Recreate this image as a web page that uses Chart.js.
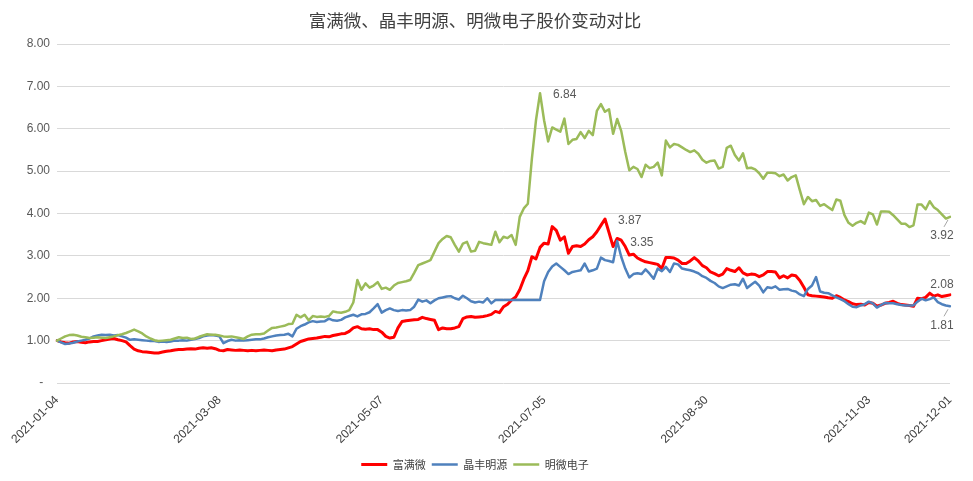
<!DOCTYPE html>
<html>
<head>
<meta charset="utf-8">
<script src="https://cdn.jsdelivr.net/npm/chart.js@4.4.0/dist/chart.umd.min.js"></script>
<style>
  body { margin: 0; background: #fff; }
</style>
</head>
<body>
<canvas id="myChart" width="973" height="481"></canvas>
<script>
// trading calendar 2021 (SSE closures)
const startDay = '2021-01-04';
const endDay = '2021-12-01';
const holidays = ['2021-01-01', '2021-02-11', '2021-02-12', '2021-02-15', '2021-02-16', '2021-02-17',
    '2021-04-05', '2021-05-03', '2021-05-04', '2021-05-05', '2021-06-14', '2021-09-20', '2021-09-21',
    '2021-10-01', '2021-10-04', '2021-10-05', '2021-10-06', '2021-10-07'];
const shownDates = ['2021-01-04', '2021-03-08', '2021-05-07', '2021-07-05', '2021-08-30', '2021-11-03', '2021-12-01'];

const seriesNames = ['富满微', '晶丰明源', '明微电子'];

// 富满微
const fumanwei = [
    1.00, 0.97, 0.95, 0.94, 0.97, 0.98, 0.96, 0.95, 0.97, 0.98,
    0.98, 1.00, 1.02, 1.04, 1.05, 1.02, 1.00, 0.97, 0.88, 0.80,
    0.76, 0.74, 0.73, 0.72, 0.71, 0.71, 0.73, 0.75, 0.76, 0.78,
    0.79, 0.79, 0.80, 0.81, 0.80, 0.82, 0.83, 0.82, 0.83, 0.81,
    0.77, 0.76, 0.79, 0.78, 0.77, 0.78, 0.77, 0.76, 0.77, 0.76,
    0.77, 0.78, 0.77, 0.76, 0.78, 0.79, 0.80, 0.83, 0.86, 0.92,
    0.98, 1.01, 1.04, 1.05, 1.06, 1.08, 1.10, 1.09, 1.12, 1.14,
    1.16, 1.17, 1.22, 1.30, 1.33, 1.28, 1.27, 1.28, 1.26, 1.26,
    1.20, 1.10, 1.06, 1.08, 1.30, 1.45, 1.47, 1.48, 1.49, 1.50,
    1.55, 1.52, 1.50, 1.48, 1.26, 1.30, 1.28, 1.28, 1.30, 1.33,
    1.52, 1.56, 1.57, 1.55, 1.56, 1.57, 1.59, 1.62, 1.69, 1.66,
    1.80, 1.86, 1.96, 2.03, 2.20, 2.45, 2.65, 2.98, 2.93, 3.20,
    3.30, 3.28, 3.69, 3.60, 3.37, 3.45, 3.06, 3.22, 3.24, 3.22,
    3.28, 3.38, 3.45, 3.57, 3.72, 3.87, 3.55, 3.22, 3.41, 3.37,
    3.22, 3.02, 3.04, 2.95, 2.90, 2.86, 2.84, 2.82, 2.80, 2.70,
    2.96, 2.96, 2.95, 2.90, 2.82, 2.82, 2.88, 2.96, 2.88, 2.77,
    2.72, 2.62, 2.58, 2.53, 2.57, 2.70, 2.66, 2.63, 2.72, 2.60,
    2.55, 2.57, 2.56, 2.51, 2.55, 2.63, 2.63, 2.62, 2.48, 2.53,
    2.48, 2.55, 2.53, 2.42, 2.26, 2.08, 2.06, 2.05, 2.04, 2.03,
    2.01, 2.00, 2.06, 2.02, 1.96, 1.92, 1.87, 1.85, 1.86, 1.84,
    1.90, 1.88, 1.81, 1.84, 1.88, 1.90, 1.93, 1.88, 1.85, 1.84,
    1.83, 1.81, 2.00, 1.99, 2.02, 2.12, 2.05, 2.08, 2.04, 2.06, 2.08
];

// 晶丰明源
const jingfeng = [
    1.00, 0.96, 0.92, 0.93, 0.95, 0.98, 1.00, 1.02, 1.05, 1.10,
    1.12, 1.14, 1.13, 1.14, 1.12, 1.13, 1.10, 1.07, 1.02, 1.03,
    1.02, 1.01, 1.00, 0.99, 0.99, 0.97, 0.98, 0.97, 0.98, 1.00,
    1.00, 1.01, 1.00, 1.02, 1.04, 1.06, 1.10, 1.12, 1.13, 1.12,
    1.10, 0.94, 0.99, 1.02, 1.00, 1.01, 1.00, 1.01, 1.02, 1.03,
    1.03, 1.05, 1.08, 1.10, 1.12, 1.13, 1.14, 1.16, 1.10, 1.28,
    1.34, 1.38, 1.43, 1.46, 1.44, 1.45, 1.46, 1.52, 1.48, 1.47,
    1.49, 1.55, 1.58, 1.61, 1.57, 1.62, 1.63, 1.67, 1.76, 1.86,
    1.66, 1.72, 1.76, 1.72, 1.70, 1.72, 1.71, 1.72, 1.80, 1.97,
    1.92, 1.95, 1.88, 1.95, 2.00, 2.02, 2.04, 2.05, 2.00, 1.97,
    2.06, 2.00, 1.93, 1.90, 1.92, 1.90, 2.00, 1.88, 1.96, 1.96,
    1.96, 1.96, 1.96, 1.96, 1.96, 1.96, 1.96, 1.96, 1.96, 1.96,
    2.40, 2.62, 2.75, 2.82, 2.74, 2.66, 2.57, 2.62, 2.64, 2.66,
    2.82, 2.63, 2.66, 2.70, 2.96, 2.90, 2.88, 2.85, 3.35, 2.98,
    2.70, 2.49, 2.57, 2.59, 2.57, 2.68, 2.58, 2.46, 2.70, 2.64,
    2.74, 2.62, 2.82, 2.80, 2.70, 2.68, 2.66, 2.63, 2.59, 2.52,
    2.48, 2.41, 2.36, 2.28, 2.24, 2.28, 2.32, 2.33, 2.30, 2.46,
    2.24, 2.32, 2.39, 2.30, 2.14, 2.26, 2.24, 2.28, 2.20, 2.21,
    2.22, 2.18, 2.16, 2.09, 2.05, 2.22, 2.30, 2.50, 2.16, 2.13,
    2.12, 2.07, 2.02, 1.98, 1.93, 1.86, 1.80, 1.79, 1.83, 1.86,
    1.92, 1.88, 1.78, 1.84, 1.89, 1.88, 1.88, 1.86, 1.84, 1.83,
    1.83, 1.83, 1.92, 1.99, 1.95, 1.98, 2.02, 1.91, 1.86, 1.83, 1.81
];

// 明微电子
const mingwei = [
    1.00, 1.05, 1.10, 1.13, 1.14, 1.12, 1.09, 1.08, 1.06, 1.07,
    1.08, 1.07, 1.06, 1.08, 1.10, 1.13, 1.15, 1.18, 1.22, 1.26,
    1.22, 1.17, 1.10, 1.05, 1.01, 0.99, 1.00, 1.01, 1.02, 1.05,
    1.08, 1.06, 1.07, 1.04, 1.05, 1.09, 1.12, 1.15, 1.14, 1.14,
    1.12, 1.10, 1.09, 1.10, 1.08, 1.06, 1.04, 1.10, 1.14, 1.15,
    1.15, 1.17, 1.24, 1.30, 1.31, 1.33, 1.35, 1.39, 1.40, 1.61,
    1.55, 1.61, 1.48, 1.58, 1.56, 1.57, 1.56, 1.58, 1.69, 1.67,
    1.66, 1.68, 1.72, 1.90, 2.43, 2.20, 2.35, 2.25, 2.30, 2.38,
    2.22, 2.25, 2.20, 2.30, 2.36, 2.38, 2.40, 2.43, 2.60, 2.78,
    2.82, 2.86, 2.90, 3.10, 3.30, 3.40, 3.47, 3.44, 3.26, 3.10,
    3.29, 3.33, 3.10, 3.12, 3.33, 3.30, 3.28, 3.26, 3.57, 3.32,
    3.45, 3.42, 3.49, 3.26, 3.92, 4.12, 4.23, 5.30, 6.20, 6.84,
    6.20, 5.70, 6.03, 5.98, 5.93, 6.24, 5.64, 5.74, 5.76, 5.92,
    5.78, 5.95, 5.85, 6.42, 6.58, 6.40, 6.46, 5.88, 6.23, 5.95,
    5.45, 5.02, 5.10, 5.05, 4.86, 5.15, 5.07, 5.10, 5.20, 4.90,
    5.72, 5.56, 5.64, 5.62, 5.56, 5.50, 5.45, 5.49, 5.41, 5.27,
    5.20, 5.24, 5.25, 5.06, 5.10, 5.55, 5.60, 5.38, 5.25, 5.42,
    5.07, 5.08, 5.04, 4.95, 4.82, 4.96, 4.96, 4.95, 4.88, 4.92,
    4.78, 4.86, 4.90, 4.55, 4.22, 4.39, 4.29, 4.32, 4.18, 4.22,
    4.15, 4.08, 4.33, 4.30, 3.96, 3.78, 3.71, 3.78, 3.82, 3.76,
    4.02, 3.98, 3.74, 4.05, 4.05, 4.04, 3.96, 3.86, 3.76, 3.76,
    3.68, 3.72, 4.21, 4.21, 4.10, 4.29, 4.15, 4.08, 3.98, 3.88, 3.92
];

// points that carry a value label: [dataset, index, placement]
const labelPoints = [[2, 119, 'right'], [0, 135, 'right'], [1, 138, 'right'],
    [2, 220, 'below'], [0, 220, 'above'], [1, 220, 'below']];

function tradingDays(from, to) {
    const out = [];
    const d = new Date(from + 'T00:00:00Z');
    const last = new Date(to + 'T00:00:00Z');
    while (d <= last) {
        const s = d.toISOString().slice(0, 10);
        const wd = d.getUTCDay();
        if (wd !== 0 && wd !== 6 && !holidays.includes(s)) out.push(s);
        d.setUTCDate(d.getUTCDate() + 1);
    }
    return out;
}
const dates = tradingDays(startDay, endDay);

const valueLabels = {
    id: 'valueLabels',
    afterDatasetsDraw(chart) {
        const ctx = chart.ctx;
        ctx.save();
        ctx.font = '12px "Liberation Sans", Arial, sans-serif';
        ctx.fillStyle = '#595959';
        ctx.strokeStyle = '#a6a6a6';
        ctx.lineWidth = 1;
        labelPoints.forEach(function (lp) {
            const ds = chart.data.datasets[lp[0]];
            const p = chart.getDatasetMeta(lp[0]).data[lp[1]];
            const txt = ds.data[lp[1]].toFixed(2);
            if (lp[2] === 'right') {
                ctx.textAlign = 'left';
                ctx.textBaseline = 'middle';
                ctx.fillText(txt, p.x + 13, p.y + 2);
            } else if (lp[2] === 'below') {
                ctx.beginPath();
                ctx.moveTo(p.x - 2, p.y + 3);
                ctx.lineTo(p.x - 6, p.y + 10);
                ctx.stroke();
                ctx.textAlign = 'center';
                ctx.textBaseline = 'middle';
                ctx.fillText(txt, p.x - 8, p.y + 19);
            } else {
                ctx.textAlign = 'center';
                ctx.textBaseline = 'middle';
                ctx.fillText(txt, p.x - 8, p.y - 10);
            }
        });
        ctx.restore();
    }
};

const ctx = document.getElementById('myChart');
const myChart = new Chart(ctx, {
    type: 'line',
    data: {
        labels: dates,
        datasets: [{
            label: seriesNames[0],
            data: fumanwei,
            borderColor: '#ff0000',
            backgroundColor: '#ff0000',
            borderWidth: 3,
            order: 3
        }, {
            label: seriesNames[1],
            data: jingfeng,
            borderColor: '#4f81bd',
            backgroundColor: '#4f81bd',
            borderWidth: 2.5,
            order: 2
        }, {
            label: seriesNames[2],
            data: mingwei,
            borderColor: '#9bbb59',
            backgroundColor: '#9bbb59',
            borderWidth: 2.5,
            order: 1
        }]
    },
    options: {
        responsive: false,
        animation: false,
        layout: {
            padding: { top: 4, right: 23, bottom: 1, left: 0 }
        },
        elements: {
            point: { radius: 0 },
            line: { tension: 0, borderJoinStyle: 'round', borderCapStyle: 'round' }
        },
        plugins: {
            title: {
                display: true,
                text: '富满微、晶丰明源、明微电子股价变动对比',
                color: '#404040',
                font: { family: '"Noto Sans CJK SC"', size: 17.5, weight: 'normal' },
                padding: { top: 6, bottom: 13 }
            },
            legend: {
                position: 'bottom',
                labels: {
                    usePointStyle: true,
                    pointStyle: 'line',
                    pointStyleWidth: 26,
                    color: '#404040',
                    padding: 6,
                    font: { family: '"Noto Sans CJK SC"', size: 11 },
                    sort: function (a, b) { return a.datasetIndex - b.datasetIndex; }
                }
            },
            tooltip: { enabled: false }
        },
        scales: {
            x: {
                grid: { display: false },
                border: { display: false },
                ticks: {
                    autoSkip: false,
                    maxRotation: 45,
                    minRotation: 45,
                    color: '#404040',
                    padding: 2,
                    font: { family: '"Liberation Sans", Arial', size: 12 },
                    callback: function (v, i) {
                        return shownDates.includes(dates[i]) ? dates[i] : '';
                    }
                },
                afterFit: function (s) { s.height = 70; }
            },
            y: {
                min: 0,
                max: 8,
                grid: { color: '#d9d9d9', drawTicks: false },
                border: { display: false },
                ticks: {
                    stepSize: 1,
                    padding: 7,
                    color: '#595959',
                    font: { family: '"Liberation Sans", Arial', size: 12 },
                    callback: function (v) { return v === 0 ? '-  ' : v.toFixed(2); }
                },
                afterFit: function (s) { s.width = 57; }
            }
        }
    },
    plugins: [valueLabels]
});
</script>
</body>
</html>
